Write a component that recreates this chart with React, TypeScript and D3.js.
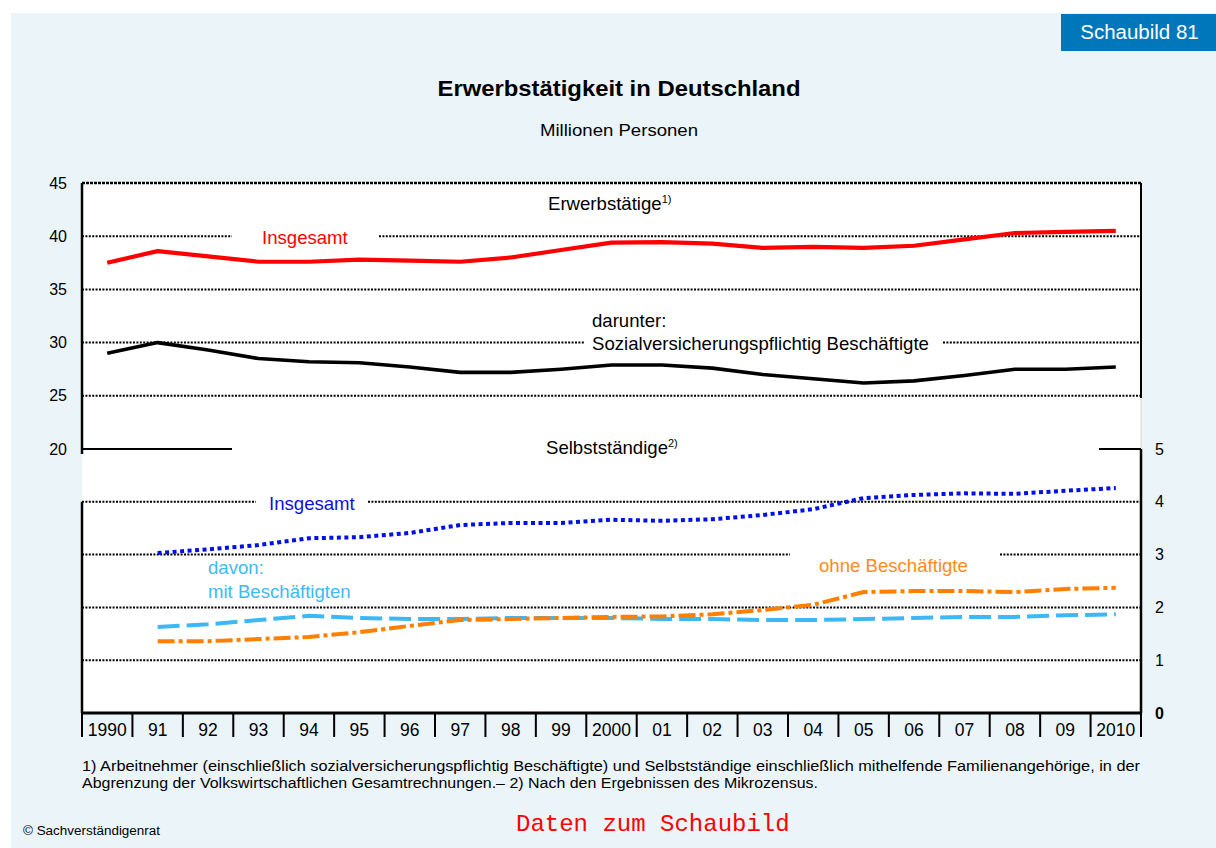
import React, { useLayoutEffect } from 'react';
import * as d3 from 'd3';

// Erwerbstätigkeit in Deutschland, Mio. Personen
const years = ['1990', '91', '92', '93', '94', '95', '96', '97', '98', '99', '2000',
  '01', '02', '03', '04', '05', '06', '07', '08', '09', '2010'];

const erwerbstaetige = [37.5, 38.6, 38.1, 37.6, 37.6, 37.8, 37.7, 37.6, 38.0, 38.7, 39.4,
  39.45, 39.3, 38.9, 39.0, 38.9, 39.1, 39.7, 40.3, 40.4, 40.5];
const svBeschaeftigte = [29.0, 30.0, 29.3, 28.5, 28.2, 28.1, 27.7, 27.2, 27.2, 27.5, 27.9,
  27.9, 27.6, 27.0, 26.6, 26.2, 26.4, 26.9, 27.5, 27.5, 27.7];

const selbstInsgesamt = [null, 3.03, 3.1, 3.18, 3.31, 3.33, 3.41, 3.56, 3.6, 3.6, 3.66,
  3.64, 3.67, 3.75, 3.86, 4.07, 4.13, 4.16, 4.15, 4.21, 4.26];
const selbstMit = [null, 1.63, 1.68, 1.76, 1.84, 1.8, 1.78, 1.78, 1.8, 1.8, 1.8,
  1.78, 1.78, 1.76, 1.76, 1.78, 1.8, 1.82, 1.82, 1.85, 1.87];
const selbstOhne = [null, 1.36, 1.36, 1.4, 1.44, 1.53, 1.65, 1.76, 1.78, 1.8, 1.82,
  1.83, 1.87, 1.95, 2.05, 2.29, 2.31, 2.31, 2.29, 2.35, 2.37];

const upperTicks = [20, 25, 30, 35, 40, 45];
const lowerTicks = [0, 1, 2, 3, 4, 5];

const FONT = "Arial, 'Liberation Sans', sans-serif";
const BG = '#EBF4F8';

const L = 82, R = 1141, T = 183, B = 713, MID = 449;

const footnote1 = '1) Arbeitnehmer (einschließlich sozialversicherungspflichtig Beschäftigte) und Selbstständige einschließlich mithelfende Familienangehörige, in der';
const footnote2 = 'Abgrenzung der Volkswirtschaftlichen Gesamtrechnungen.– 2) Nach den Ergebnissen des Mikrozensus.';

// gaps in dotted grid lines where the labels sit
const upperGaps: Record<number, [number, number]> = { 40: [232, 379], 30: [584, 943] };
const lowerGaps: Record<number, [number, number]> = { 4: [256, 368], 3: [790, 1000] };

const App: React.FC = () => {
  useLayoutEffect(() => {
    document.body.style.margin = '0';
  }, []);

  const x = d3.scaleBand<string>().domain(years).range([L, R]);
  const cx = (i: number) => (x(years[i]) || 0) + x.bandwidth() / 2;
  const yUp = d3.scaleLinear().domain([20, 45]).range([MID, T]);
  const yLo = d3.scaleLinear().domain([0, 5]).range([B, MID]);

  const lineUp = d3.line<number>().x((_, i) => cx(i)).y(d => yUp(d));
  const lineLo = d3.line<number | null>()
    .defined(d => d != null)
    .x((_, i) => cx(i)).y(d => yLo(d as number));

  const gridLine = (y: number, gap?: [number, number], key?: string) => {
    const segs = gap ? [[L, gap[0]], [gap[1], R]] : [[L, R]];
    return segs.map((s, j) => (
      <line key={`${key}-${j}`} x1={s[0]} x2={s[1]} y1={y} y2={y}
        stroke="#000" strokeWidth={2} strokeDasharray="2 1.4" />
    ));
  };

  const bounds = years.map(y => x(y) || 0).concat([R]);

  return (
    <div style={{ position: 'absolute', left: 0, top: 0 }}>
      <svg width={1216} height={848} style={{ display: 'block', fontFamily: FONT }}>
        <rect x={0} y={0} width={1216} height={848} fill="#fff" />
        <rect x={11} y={13} width={1205} height={835} fill={BG} />

        {/* badge */}
        <rect x={1061} y={14} width={155} height={37} fill="#0077BB" />
        <text x={1139.5} y={39} textAnchor="middle" fill="#fff" fontSize={20.5}>Schaubild 81</text>

        <text x={619} y={96} textAnchor="middle" fontSize={22} fontWeight="bold" fill="#000"
          textLength={363} lengthAdjust="spacingAndGlyphs">
          Erwerbstätigkeit in Deutschland
        </text>
        <text x={619} y={136} textAnchor="middle" fontSize={16} fill="#000"
          textLength={158} lengthAdjust="spacingAndGlyphs">Millionen Personen</text>

        {/* plot area */}
        <rect x={L} y={T} width={R - L} height={B - T} fill="#fff" />
        <line x1={R} x2={R} y1={398} y2={MID} stroke="#d0d8dc" strokeWidth={1} />

        {/* upper grid */}
        {upperTicks.filter(t => t > 20 && t < 45).map(t => gridLine(yUp(t), upperGaps[t], `u${t}`))}
        <line x1={L} x2={R} y1={T} y2={T} stroke="#000" strokeWidth={2.5} strokeDasharray="3 1" />
        {/* lower grid */}
        {lowerTicks.filter(t => t > 0 && t < 5).map(t => gridLine(yLo(t), lowerGaps[t], `l${t}`))}

        {/* frame pieces */}
        <line x1={L} x2={L} y1={T} y2={454} stroke="#000" strokeWidth={2.5} />
        <line x1={R} x2={R} y1={T} y2={398} stroke="#000" strokeWidth={2} />
        <line x1={L} x2={232} y1={MID} y2={MID} stroke="#000" strokeWidth={2} />
        <line x1={1099} x2={R} y1={MID} y2={MID} stroke="#000" strokeWidth={2} />
        <line x1={R} x2={R} y1={MID} y2={B} stroke="#000" strokeWidth={2.5} />
        <line x1={L} x2={L} y1={yLo(4)} y2={B} stroke="#000" strokeWidth={2.5} />
        <line x1={L - 1} x2={R + 1} y1={B} y2={B} stroke="#000" strokeWidth={3} />

        {/* x ticks + labels */}
        {bounds.map((b, i) => (
          <line key={`t${i}`} x1={b} x2={b} y1={B} y2={737} stroke="#000" strokeWidth={2} />
        ))}
        {years.map((yr, i) => (
          <text key={yr} x={cx(i)} y={736} textAnchor="middle" fontSize={17.5} fill="#000">{yr}</text>
        ))}

        {/* y labels */}
        {upperTicks.map(t => (
          <text key={`ul${t}`} x={67} y={yUp(t) + 5.5} textAnchor="end" fontSize={16} fill="#000">{t}</text>
        ))}
        {lowerTicks.map(t => (
          <text key={`ll${t}`} x={1155} y={yLo(t) + 5.5} fontSize={16} fill="#000"
            fontWeight={t === 0 ? 'bold' : 'normal'}>{t}</text>
        ))}

        {/* series */}
        <path d={lineUp(erwerbstaetige) || ''} fill="none" stroke="#FF0000" strokeWidth={4.2} strokeLinejoin="round" />
        <path d={lineUp(svBeschaeftigte) || ''} fill="none" stroke="#000" strokeWidth={3.6} strokeLinejoin="round" />
        <path d={lineLo(selbstInsgesamt) || ''} fill="none" stroke="#0010E6" strokeWidth={4} strokeDasharray="4 3.5" />
        <path d={lineLo(selbstMit) || ''} fill="none" stroke="#3DB8F5" strokeWidth={4} strokeDasharray="22 7" />
        <path d={lineLo(selbstOhne) || ''} fill="none" stroke="#FF7F00" strokeWidth={4} strokeDasharray="17 4 4 4" />

        {/* in-chart labels */}
        <text x={548} y={210} fontSize={18.6} fill="#000">
          Erwerbstätige<tspan fontSize={11} dy={-7}>1)</tspan>
        </text>
        <text x={262} y={244} fontSize={18.6} fill="#FF0000">Insgesamt</text>
        <text x={592} y={327} fontSize={18.6} fill="#000">darunter:</text>
        <text x={592} y={350} fontSize={18.6} fill="#000">Sozialversicherungspflichtig Beschäftigte</text>
        <text x={546} y={454} fontSize={18.6} fill="#000">
          Selbstständige<tspan fontSize={11} dy={-7}>2)</tspan>
        </text>
        <text x={269} y={510} fontSize={18.6} fill="#1010D8">Insgesamt</text>
        <text x={208} y={574} fontSize={18.6} fill="#40BAF2">davon:</text>
        <text x={208} y={598} fontSize={18.6} fill="#40BAF2">mit Beschäftigten</text>
        <text x={819} y={572} fontSize={18.6} fill="#FF8A20">ohne Beschäftigte</text>

        {/* footnotes */}
        <text x={L} y={771} fontSize={14} fill="#000" textLength={R - L - 1} lengthAdjust="spacingAndGlyphs">{footnote1}</text>
        <text x={L} y={788} fontSize={14} fill="#000" textLength={736} lengthAdjust="spacingAndGlyphs">{footnote2}</text>

        <text x={23} y={835} fontSize={12.5} fill="#000" textLength={137} lengthAdjust="spacingAndGlyphs">© Sachverständigenrat</text>
        <text x={516} y={831} fontSize={24} fill="#FF0000" fontFamily="'Courier New', 'Liberation Mono', monospace">Daten zum Schaubild</text>
      </svg>
    </div>
  );
};

export default App;
